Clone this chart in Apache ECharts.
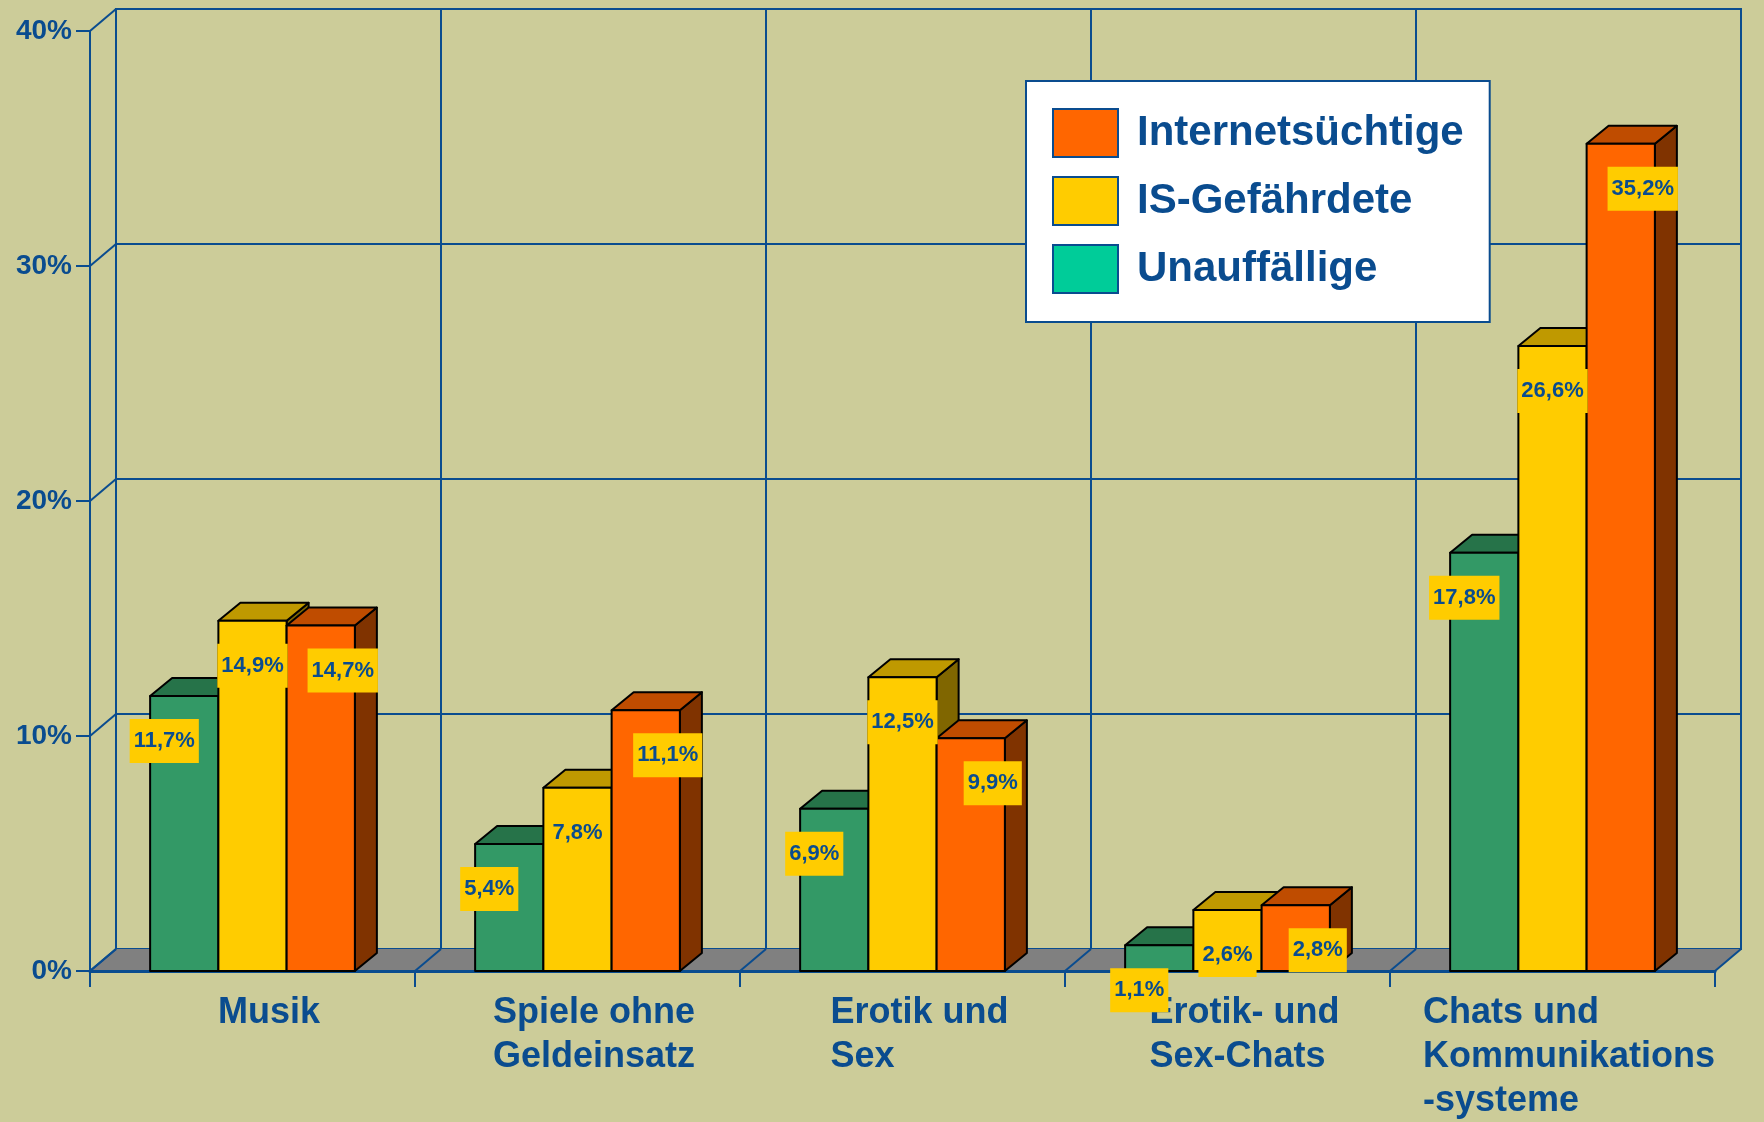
<!DOCTYPE html>
<html>
<head>
<meta charset="utf-8">
<script src="https://cdn.jsdelivr.net/npm/echarts@6/dist/echarts.min.js"></script>
<style>
  html, body { margin: 0; padding: 0; background: #cccc99; }
  #chart { width: 1764px; height: 1122px; }
</style>
</head>
<body>
<div id="chart"></div>
<script>
const categories = ['Musik', 'Spiele ohne\nGeldeinsatz', 'Erotik und\nSex', 'Erotik- und\nSex-Chats', 'Chats und\nKommunikations\n-systeme'];
const unauffaellige = [11.7, 5.4, 6.9, 1.1, 17.8];
const gefaehrdete = [14.9, 7.8, 12.5, 2.6, 26.6];
const suechtige = [14.7, 11.1, 9.9, 2.8, 35.2];
const yTicks = [0, 10, 20, 30, 40];

const BLUE = '#0a4c8f';
const FONT = '"Liberation Sans", Arial, sans-serif';
// wall depth and bar depth in px
const WX = 26, WY = 22;
const BX = 22, BY = 18;

const el = document.getElementById('chart');
const chart = echarts.init(el, null, { renderer: 'canvas' });

// measure each category label so its lines can be left aligned inside a centred block
const ctx = document.createElement('canvas').getContext('2d');
ctx.font = 'bold 36px ' + FONT;
const rich = {};
categories.forEach((c, i) => {
  const w = Math.max(...c.split('\n').map(l => ctx.measureText(l).width));
  rich['c' + i] = {
    width: Math.ceil(w) + 2, align: 'left',
    fontFamily: FONT, fontSize: 36, fontWeight: 'bold',
    lineHeight: 44, color: BLUE
  };
});

function fmt(v) {
  return v.toFixed(1).replace('.', ',') + '%';
}

const labelShift = [-20, 0, 22];

function barSeries(name, values, slot, colors) {
  return {
    type: 'custom',
    name,
    xAxisIndex: 0,
    yAxisIndex: 0,
    z: 5,
    silent: true,
    itemStyle: { color: colors.front },
    encode: { x: 0, y: 1 },
    data: values.map((v, i) => [i, v]),
    renderItem(params, api) {
      const i = api.value(0);
      const v = api.value(1);
      const top = api.coord([i, v]);
      const base = api.coord([i, 0]);
      const w = api.size([1, 0])[0] * 0.21;
      const x1 = top[0] + (slot - 1.5) * w;
      const x2 = x1 + w;
      const yt = top[1];
      const yb = base[1];
      const edge = { stroke: '#000', lineWidth: 2, lineJoin: 'round' };
      return {
        type: 'group',
        children: [
          {
            type: 'polygon',
            shape: { points: [[x2, yt], [x2 + BX, yt - BY], [x2 + BX, yb - BY], [x2, yb]] },
            style: Object.assign({ fill: colors.side }, edge)
          },
          {
            type: 'polygon',
            shape: { points: [[x1, yt], [x2, yt], [x2 + BX, yt - BY], [x1 + BX, yt - BY]] },
            style: Object.assign({ fill: colors.top }, edge)
          },
          {
            type: 'rect',
            shape: { x: x1, y: yt, width: w, height: yb - yt },
            style: Object.assign({ fill: colors.front }, edge)
          },
          {
            type: 'text',
            z2: 100,
            x: (x1 + x2) / 2 + labelShift[slot],
            y: yt + 45,
            style: {
              text: fmt(v),
              fill: BLUE,
              fontFamily: FONT,
              fontSize: 22,
              fontWeight: 'bold',
              backgroundColor: '#ffcc00',
              padding: [11, 4, 11, 4],
              align: 'center',
              verticalAlign: 'middle'
            }
          }
        ]
      };
    }
  };
}

// gray floor with the diagonal ties at each category boundary
const floorSeries = {
  type: 'custom',
  silent: true,
  z: 2,
  xAxisIndex: 0,
  yAxisIndex: 0,
  encode: { x: 0, y: 1 },
  data: categories.map((c, i) => [i, 0]),
  renderItem(params, api) {
    const i = api.value(0);
    const c = api.coord([i, 0]);
    const band = api.size([1, 0])[0];
    const xl = c[0] - band / 2;
    const xr = c[0] + band / 2;
    const y = c[1];
    const children = [
      {
        type: 'polygon',
        shape: { points: [[xl, y], [xr, y], [xr + WX, y - WY], [xl + WX, y - WY]] },
        style: { fill: '#808080' }
      },
      {
        type: 'line',
        shape: { x1: xl, y1: y, x2: xl + WX, y2: y - WY },
        style: { stroke: BLUE, lineWidth: 2 }
      }
    ];
    if (i === categories.length - 1) {
      children.push({
        type: 'line',
        shape: { x1: xr, y1: y, x2: xr + WX, y2: y - WY },
        style: { stroke: BLUE, lineWidth: 2 }
      });
    }
    return { type: 'group', children };
  }
};

// side-wall ties from the front axis to the back wall
const tieSeries = {
  type: 'custom',
  silent: true,
  z: 3,
  xAxisIndex: 0,
  yAxisIndex: 0,
  encode: { x: 0, y: 1 },
  data: yTicks.map(v => [0, v]),
  renderItem(params, api) {
    const p = api.coord([0, api.value(1)]);
    const x0 = p[0] - api.size([1, 0])[0] / 2;
    return {
      type: 'line',
      shape: { x1: x0, y1: p[1], x2: x0 + WX, y2: p[1] - WY },
      style: { stroke: BLUE, lineWidth: 2 }
    };
  }
};

const option = {
  backgroundColor: '#cccc99',
  animation: false,
  grid: [
    { left: 90, right: 49, top: 31, bottom: 151 },
    { left: 90 + WX, right: 49 - WX, top: 31 - WY, bottom: 151 + WY, show: true, borderColor: BLUE, borderWidth: 2, backgroundColor: 'transparent' }
  ],
  legend: {
    orient: 'vertical',
    left: 1026,
    top: 81,
    padding: [27, 26, 28, 26],
    itemGap: 18,
    itemWidth: 65,
    itemHeight: 48,
    backgroundColor: '#ffffff',
    borderColor: BLUE,
    borderWidth: 2,
    icon: 'rect',
    selectedMode: false,
    textStyle: { color: BLUE, fontSize: 42, fontWeight: 'bold', fontFamily: FONT, padding: [8, 0, 0, 14] },
    data: [
      { name: 'Internetsüchtige', itemStyle: { color: '#ff6600', borderColor: BLUE, borderWidth: 2 } },
      { name: 'IS-Gefährdete', itemStyle: { color: '#ffcc00', borderColor: BLUE, borderWidth: 2 } },
      { name: 'Unauffällige', itemStyle: { color: '#00cc99', borderColor: BLUE, borderWidth: 2 } }
    ]
  },
  xAxis: [
    {
      type: 'category',
      gridIndex: 0,
      data: categories,
      z: 4,
      axisLine: { show: true, lineStyle: { color: BLUE, width: 3 } },
      axisTick: { show: true, length: 16, lineStyle: { color: BLUE, width: 2 } },
      splitLine: { show: false },
      axisLabel: {
        interval: 0,
        margin: 20,
        padding: [0, 0, 0, 36],
        formatter: (val, idx) => val.split('\n').map(l => '{c' + idx + '|' + l + '}').join('\n'),
        rich
      }
    },
    {
      type: 'category',
      gridIndex: 1,
      data: categories,
      axisLine: { show: false },
      axisTick: { show: false },
      axisLabel: { show: false },
      splitLine: { show: true, interval: 0, lineStyle: { color: BLUE, width: 2 } }
    }
  ],
  yAxis: [
    {
      type: 'value',
      gridIndex: 0,
      min: 0,
      max: 40,
      interval: 10,
      z: 4,
      axisLine: { show: true, lineStyle: { color: BLUE, width: 2 } },
      axisTick: { show: true, length: 14, lineStyle: { color: BLUE, width: 2 } },
      splitLine: { show: false },
      axisLabel: {
        margin: 18,
        formatter: '{value}%',
        color: BLUE,
        fontSize: 28,
        fontWeight: 'bold',
        fontFamily: FONT
      }
    },
    {
      type: 'value',
      gridIndex: 1,
      min: 0,
      max: 40,
      interval: 10,
      axisLine: { show: false },
      axisTick: { show: false },
      axisLabel: { show: false },
      splitLine: { show: true, lineStyle: { color: BLUE, width: 2 } }
    }
  ],
  series: [
    floorSeries,
    tieSeries,
    barSeries('Unauffällige', unauffaellige, 0, { front: '#339966', top: '#267349', side: '#1a4d33' }),
    barSeries('IS-Gefährdete', gefaehrdete, 1, { front: '#ffcc00', top: '#bf9900', side: '#806600' }),
    barSeries('Internetsüchtige', suechtige, 2, { front: '#ff6600', top: '#bf4c00', side: '#803300' })
  ]
};

chart.setOption(option);
window.addEventListener('resize', () => chart.resize());
</script>
</body>
</html>
